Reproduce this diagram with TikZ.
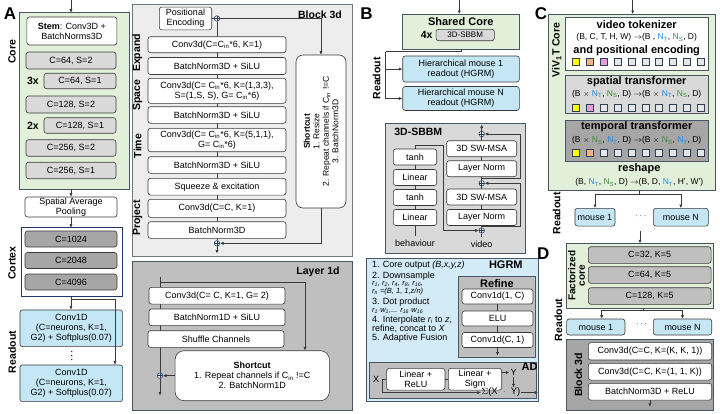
\documentclass[tikz,border=0pt]{standalone}
\usepackage{fontspec}
\setmainfont{Liberation Sans}
\usepackage{tikz}
\usetikzlibrary{arrows.meta}

\definecolor{coreGreen}{HTML}{E2F0D9}
\definecolor{readBlue}{HTML}{C5E6F4}
\definecolor{hgrmBlue}{HTML}{D2EBF6}
\definecolor{lightGray}{HTML}{D9D9D9}
\definecolor{midGray}{HTML}{BFBFBF}
\definecolor{darkGray}{HTML}{A6A6A6}
\definecolor{panelBg}{HTML}{EDEDED}
\definecolor{lineCol}{HTML}{3A3A3A}
\definecolor{panelLine}{HTML}{4A5563}
\definecolor{navyLine}{HTML}{203864}
\definecolor{plusBlue}{HTML}{1F3864}
\definecolor{ntBlue}{HTML}{1E88E5}
\definecolor{nsGreen}{HTML}{3B8E3B}
\definecolor{tokYellow}{HTML}{FFFF00}
\definecolor{tokOrange}{HTML}{F4B183}
\definecolor{tokPink}{HTML}{E49EDD}
\definecolor{tokGray}{HTML}{E4E6EA}
\definecolor{tokLine}{HTML}{2F3E50}

\newcommand{\boxfont}{\fontsize{9}{10}\selectfont}
\newcommand{\smfont}{\fontsize{8.5}{9.5}\selectfont}
\newcommand{\tnfont}{\fontsize{7.5}{8.5}\selectfont}
\newcommand{\NTb}{\textcolor{ntBlue}{N\textsubscript{T}}}
\newcommand{\NSg}{\textcolor{nsGreen}{N\textsubscript{S}}}
\newcommand{\Cin}{C\textsubscript{in}}

\tikzset{
  blk/.style={draw=lineCol, line width=0.6pt, rounded corners=2.5pt, fill=white,
    align=center, inner sep=0.5pt, font=\boxfont},
  gbox/.style={blk, fill=lightGray},
  mbox/.style={blk, fill=midGray},
  dbox/.style={blk, fill=darkGray},
  rbox/.style={blk, fill=readBlue},
  panel/.style={draw=panelLine, line width=0.8pt},
  lbl/.style={font=\bfseries\fontsize{10.5}{12}\selectfont, rotate=90},
  ttl/.style={font=\bfseries\fontsize{10.5}{12}\selectfont},
  bigttl/.style={font=\bfseries\fontsize{11}{12}\selectfont},
  letter/.style={font=\bfseries\fontsize{17}{18}\selectfont},
  txt/.style={font=\boxfont},
  ln/.style={draw=lineCol, line width=0.6pt},
  arr/.style={ln, -{Latex[length=3.5pt,width=3.2pt]}},
  tok/.style={draw=tokLine, line width=0.6pt, minimum size=7, inner sep=0pt},
  plus/.style={circle, draw=plusBlue, line width=0.6pt, fill=white, inner sep=0pt,
    minimum size=5.5pt, path picture={\draw[plusBlue, line width=0.5pt]
      (path picture bounding box.north) -- (path picture bounding box.south)
      (path picture bounding box.west) -- (path picture bounding box.east);}},
}

\begin{document}
\begin{tikzpicture}[x=1pt,y=-1pt]
\fill[white] (0,0) rectangle (720,413);
\useasboundingbox (0,0) rectangle (720,413);

% A
\node[letter] (labA) at (10,14) {A};
\coordinate (inA) at (71,0);
\coordinate (coreT) at (71,12.7);
\draw[panel, fill=coreGreen] (19.5,12.7) rectangle (129,189);
\draw[arr] (inA) -- (coreT);
\node[lbl] (lCore) at (12,52) {Core};
\node[blk, minimum width=90, minimum height=28] (stem) at (71.9,31) {\textbf{Stem}: Conv3D +\\BatchNorms3D};
\node[gbox, minimum width=90, minimum height=17] (c1) at (71,60.5) {C=64, S=2};
\node[gbox, minimum width=72, minimum height=15.5] (c2) at (80,81) {C=64, S=1};
\node[gbox, minimum width=90, minimum height=17] (c3) at (71,104.5) {C=128, S=2};
\node[gbox, minimum width=72, minimum height=15.5] (c4) at (80,125.5) {C=128, S=1};
\node[gbox, minimum width=90, minimum height=16.5] (c5) at (71,148) {C=256, S=2};
\node[gbox, minimum width=90, minimum height=16.5] (c6) at (71,170.5) {C=256, S=1};
\node[ttl] (rep3) at (33,81) {3x};
\node[ttl] (rep2) at (33,125.5) {2x};
\coordinate (coreB) at (71,189);
\node[blk, minimum width=92, minimum height=20] (pool) at (71,207) {Spatial Average\\Pooling};
\draw[arr] (coreB) -- (pool.north);
\coordinate (ctxT) at (71,227.7);
\coordinate (ctxB) at (71,296.7);
\draw[panel, draw=navyLine, fill=white] (21,227.7) rectangle (122,296.7);
\draw[arr] (pool.south) -- (ctxT);
\node[lbl] (lCtx) at (12,263) {Cortex};
\node[dbox, minimum width=92, minimum height=16] (k1) at (71,239) {C=1024};
\node[dbox, minimum width=92, minimum height=16] (k2) at (71,260.5) {C=2048};
\node[dbox, minimum width=92, minimum height=16] (k3) at (71,282) {C=4096};
\node[rbox, minimum width=102.7, minimum height=36.7] (r1) at (71.3,328.3) {Conv1D\\(C=neurons, K=1,\\G2) + Softplus(0.07)};
\node[rbox, minimum width=102.7, minimum height=36.7] (r2) at (71.3,383.3) {Conv1D\\(C=neurons, K=1,\\G2) + Softplus(0.07)};
\foreach \d in {351.5,355.5,359.5}
  \fill[lineCol] (71.7,\d) circle (0.8pt);
\node[lbl] (lRdA) at (12,352) {Readout};
\coordinate (brA) at (71,299.5);
\draw[arr] (ctxB) -- (ctxB |- r1.north);
\draw[arr] (brA) -| ([xshift=43.7pt]r2.north);

% Block 3d
\draw[panel, draw=panelLine!80, fill=panelBg] (132,4) rectangle (352,256.7);
\node[ttl] (t3d) at (320,15) {Block 3d};
\node[plus] (p1) at (217,18.5) {};
\node[plus] (p2) at (217,243.3) {};
\coordinate (out3d) at (217,253.5);
\draw[ln] (p1) -- (p2);
\draw[arr] (p2.south) -- (out3d);
\node[blk, minimum width=52.4, minimum height=22.7] (pe) at (185.5,18.5) {Positional\\Encoding};
\draw[ln] (pe.east) -- (p1.west);
\node[blk, minimum width=138, minimum height=16] (e1) at (217,44.7) {Conv3d(C=\Cin*6, K=1)};
\node[blk, minimum width=138, minimum height=17] (e2) at (217,66) {BatchNorm3D + SiLU};
\node[blk, minimum width=138, minimum height=25] (s1) at (217,90.8) {Conv3d(C= \Cin*6, K=(1,3,3),\\S=(1,S, S), G= \Cin*6)};
\node[blk, minimum width=138, minimum height=16.6] (s2) at (217,115) {BatchNorm3D + SiLU};
\node[blk, minimum width=138, minimum height=23.4] (m1) at (217,140) {Conv3d(C= \Cin*6, K=(5,1,1),\\G= \Cin*6)};
\node[blk, minimum width=138, minimum height=16.6] (m2) at (217,165) {BatchNorm3D + SiLU};
\node[blk, minimum width=138, minimum height=16.7] (se) at (217,186.7) {Squeeze \& excitation};
\node[blk, minimum width=138, minimum height=18] (j1) at (217,208.3) {Conv3d(C=C, K=1)};
\node[blk, minimum width=138, minimum height=16.6] (j2) at (217,230) {BatchNorm3D};
\node[lbl] (lExp) at (137.5,53) {Expand};
\node[lbl] (lSpa) at (137.5,95) {Space};
\node[lbl] (lTim) at (137.5,146) {Time};
\node[lbl] (lPro) at (137.5,218) {Project};
\node[blk, rotate=90, rounded corners=7pt, minimum width=153, minimum height=50, font=\smfont] (sc3) at (321,131.5)
  {\textbf{Shortcut}\\1. Resize\\2. Repeat channels if \Cin{} !=C\\3. BatchNorm3D};
\draw[arr] (p1.east) -| (sc3.east);
\draw[arr] (sc3.west) |- (p2.east);

% Layer 1d
\draw[panel, fill=midGray] (132,261.7) rectangle (352,410);
\node[ttl] (t1d) at (318,271.7) {Layer 1d};
\coordinate (in1d) at (160,277);
\coordinate (br1d) at (160,282);
\node[plus] (p3) at (160,375.7) {};
\coordinate (out1d) at (160,395.5);
\draw[ln] (in1d) -- (p3.north);
\draw[arr] (p3.south) -- (out1d);
\node[blk, minimum width=136, minimum height=16.7] (l1) at (217,295.7) {Conv3d(C= C, K=1, G= 2)};
\node[blk, minimum width=136, minimum height=16.7] (l2) at (217,317.3) {BatchNorm1D + SiLU};
\node[blk, minimum width=136, minimum height=16.6] (l3) at (216,339) {Shuffle Channels};
\node[blk, rounded corners=9pt, minimum width=154.3, minimum height=50] (sc1) at (252.2,375.7)
  {\textbf{Shortcut}\\1. Repeat channels if \Cin{} !=C\\2. BatchNorm1D};
\draw[arr] (br1d) -| ([xshift=52.8pt]sc1.north);
\draw[arr] (sc1.west) -- (p3.east);

% B
\node[letter] (labB) at (366.5,13.5) {B};
\coordinate (inB) at (459.3,0);
\coordinate (shT) at (459.3,14);
\draw[panel, fill=coreGreen] (402.7,14) rectangle (519.3,49.3);
\draw[arr] (inB) -- (shT);
\node[bigttl] (tsh) at (460.7,21.7) {Shared Core};
\node[ttl] (four) at (426.7,34.7) {4x};
\node[gbox, minimum width=58.3, minimum height=11.4, font=\fontsize{8}{9}\selectfont] (sbbm) at (465.2,35) {3D-SBBM};
\node[rbox, minimum width=116.6, minimum height=26] (h1) at (461,69) {Hierarchical mouse 1\\readout (HGRM)};
\node[rbox, minimum width=116.6, minimum height=24] (h2) at (461,98.5) {Hierarchical mouse N\\readout (HGRM)};
\node[lbl] (lRdB) at (376.7,78.3) {Readout};
\coordinate (shB) at (461,49.3);
\coordinate (brB) at (461,51.5);
\coordinate (brBL) at (385.7,51.5);
\draw[ln] (shB) -- (brB) -- (brBL);
\draw[arr] (brBL) |- (h1.west);
\draw[arr] (brBL) |- (h2.west);

% 3D-SBBM
\draw[panel, fill=lightGray] (385.7,123.3) rectangle (525,253.3);
\node[ttl] (tsb) at (418.3,131.7) {3D-SBBM};
\node[txt] (beh) at (415,243.3) {behaviour};
\node[txt] (vid) at (481.7,244.3) {video};
\node[plus] (q1) at (481.7,134) {};
\node[plus] (q2) at (481.7,183.3) {};
\node[plus] (q3) at (481.7,230.5) {};
\coordinate (sbOut) at (481.7,124.5);
\draw[ln] (vid) -- (q3) -- (q2) -- (q1);
\draw[arr] (q1.north) -- (sbOut);
\node[blk, minimum width=43.4, minimum height=16] (ta1) at (415,157) {tanh};
\node[blk, minimum width=43.4, minimum height=16] (li1) at (415,177.5) {Linear};
\node[blk, minimum width=43.4, minimum height=16] (ta2) at (415,197.5) {tanh};
\node[blk, minimum width=43.4, minimum height=16] (li2) at (415,217.5) {Linear};
\draw[ln] (beh) -- (li2) -- (ta2) -- (li1) -- (ta1);
\node[blk, minimum width=70, minimum height=16] (sw1) at (481.7,148.7) {3D SW-MSA};
\node[blk, minimum width=70, minimum height=16] (ln1) at (481.7,168.7) {Layer Norm};
\node[blk, minimum width=70, minimum height=16] (sw2) at (481.7,197) {3D SW-MSA};
\node[blk, minimum width=70, minimum height=16] (ln2) at (481.7,217.5) {Layer Norm};
\coordinate (bhA) at (415,145);
\coordinate (bhB) at (443.3,145);
\draw[arr] (ta1.north) -- (bhA) -- (bhB) |- (q3.west);
\coordinate (sk1a) at (481.7,178.7);
\coordinate (sk1b) at (520.7,178.7);
\coordinate (sk2a) at (481.7,226.4);
\coordinate (sk2b) at (520.7,226.4);
\draw[arr] (sk1a) -- (sk1b) |- (q1.east);
\draw[arr] (sk2a) -- (sk2b) |- (q2.east);

% HGRM
\draw[panel, fill=hgrmBlue] (366.7,258.3) rectangle (538,401.7);
\node[bigttl] (thg) at (505.8,265) {HGRM};
\node[txt, anchor=west] (hl1) at (368.5,265) {1. Core output \textit{(B,x,y,z)}};
\node[txt, anchor=west] (hl2) at (368.5,275.7) {2. Downsample};
\node[font=\tnfont, anchor=west] (hl3) at (368.5,284.3) {\textit{r\textsubscript{1}, r\textsubscript{2}, r\textsubscript{4}, r\textsubscript{8}, r\textsubscript{16},}};
\node[font=\tnfont, anchor=west] (hl4) at (368.5,292) {\textit{r\textsubscript{n} =(B, 1, 1,z/n)}};
\node[txt, anchor=west] (hl5) at (368.5,301.7) {3. Dot product};
\node[font=\tnfont, anchor=west] (hl6) at (368.5,310.7) {\textit{r\textsubscript{1}$\cdot$w\textsubscript{1},... r\textsubscript{16}$\cdot$w\textsubscript{16}}};
\node[txt, anchor=west] (hl7) at (368.5,320) {4. Interpolate \textit{r\textsubscript{i}} to \textit{z},};
\node[txt, anchor=west] (hl8) at (368.5,329.2) {refine, concat to \textit{X}};
\node[txt, anchor=west] (hl9) at (368.5,338.5) {5. Adaptive Fusion};
\draw[panel, fill=midGray] (458.3,276.7) rectangle (535.5,357.3);
\node[bigttl] (tref) at (497,283.5) {Refine};
\node[blk, minimum width=71, minimum height=15] (rc1) at (497.5,296.5) {Conv1d(1, C)};
\node[blk, minimum width=71, minimum height=15] (rc2) at (497.5,318.5) {ELU};
\node[blk, minimum width=71, minimum height=15] (rc3) at (497.5,340) {Conv1d(C, 1)};
\coordinate (refOut) at (497.5,355.5);
\draw[ln] (rc1) -- (rc2) -- (rc3);
\draw[arr] (rc3.south) -- (refOut);
\draw[panel, fill=midGray] (369,362.5) rectangle (536,398.5);
\node[bigttl] (tad) at (529.5,367) {AD};
\node[txt] (xin) at (376,379.2) {X};
\node[blk, minimum width=58.3, minimum height=21.7] (lr) at (415.8,379.2) {Linear +\\ReLU};
\node[blk, minimum width=53.4, minimum height=21.7] (ls) at (475,379.2) {Linear +\\Sigm};
\node[txt, inner sep=1pt] (yout) at (513.5,372.5) {Y};
\node[txt, inner sep=0.5pt, font=\fontsize{9.5}{10}\selectfont] (sig) at (501,392.5) {$\Sigma$(X~~$\cdot$~~Y)};
\coordinate (xb) at (382,379.2);
\coordinate (adOut) at (538,392.5);
\draw[ln] (xin.east) -- (lr.west);
\draw[ln] (lr.east) -- (ls.west);
\draw[arr] (ls.east |- yout.west) -- (yout.west);
\draw[arr] (yout.south) -- (yout.south |- sig.north);
\draw[arr] (xb) |- (sig.west);
\draw[arr] (sig.east) -- (adOut);

% C
\node[letter] (labC) at (541,13.5) {C};
\coordinate (inC) at (632.7,0);
\coordinate (vvT) at (632.7,14);
\draw[panel, fill=coreGreen] (548.3,14) rectangle (715,190);
\draw[arr] (inC) -- (vvT);
\node[lbl] (tviv) at (556.7,50) {ViV\textsubscript{1}T Core};
\draw[panel, fill=white] (565,17.3) rectangle (708.3,70.7);
\node[bigttl] (tokT) at (636.7,25) {video tokenizer};
\node[font=\smfont] (tokF) at (636.7,37.7) {(B, C, T, H, W) $\rightarrow$(B , \NTb, \NSg, D)};
\node[bigttl] (tokP) at (636.7,51) {and positional encoding};
\foreach \i/\c in {0/tokYellow,1/tokOrange,2/tokPink,3/tokGray,4/tokGray,5/tokGray,6/tokGray,7/tokGray,8/tokGray,9/tokGray}
  \node[tok, fill=\c] (va\i) at ({575.8+13.9*\i},61.7) {};
\draw[panel, fill=lightGray] (565,75) rectangle (708.3,113.3);
\node[bigttl] (spT) at (636.7,81.7) {spatial transformer};
\node[font=\smfont] (spF) at (636.7,94.3) {(B $\times$ \NTb, \NSg, D) $\rightarrow$(B $\times$ \NTb, \NSg, D)};
\foreach \i/\c in {0/tokYellow,1/tokPink,2/tokGray,3/tokGray,4/tokGray,5/tokGray,6/tokGray,7/tokGray,8/tokGray,9/tokGray}
  \node[tok, fill=\c] (vb\i) at ({575.8+13.9*\i},107.3) {};
\draw[panel, fill=darkGray] (565,120.7) rectangle (708.3,161.7);
\node[bigttl] (tpT) at (636.7,126.7) {temporal transformer};
\node[font=\smfont] (tpF) at (636.7,140.7) {(B $\times$ \NSg, \NTb, D) $\rightarrow$(B $\times$ \NSg, \NTb, D)};
\foreach \i/\c in {0/tokYellow,1/tokOrange,2/tokGray,3/tokGray,4/tokGray,5/tokGray,6/tokGray,7/tokGray,8/tokGray,9/tokGray}
  \node[tok, fill=\c] (vc\i) at ({575.8+13.9*\i},152.7) {};
\node[bigttl] (rsT) at (639.3,169) {reshape};
\node[font=\smfont] (rsF) at (639.3,182.7) {(B, \NTb, \NSg, D) $\rightarrow$(B, D, \NTb, H', W')};
\node[rbox, minimum width=40, minimum height=17.7] (cm1) at (595,217.2) {mouse 1};
\node[rbox, minimum width=55, minimum height=17.7] (cmN) at (680.8,217.2) {mouse N};
\node[font=\boxfont] (cdots) at (641,216.2) {$\cdots$};
\node[lbl] (lRdC) at (556.7,213.3) {Readout};
\coordinate (cBot) at (639.3,190);
\coordinate (cBr) at (639.3,194);
\draw[ln] (cBot) -- (cBr);
\draw[arr] (cBr) -| (cm1.north);
\draw[arr] (cBr) -| (cmN.north);
\coordinate (cOut) at (640,230.5);
\coordinate (fTop) at (640,243.3);
\draw[arr] (cOut) -- (fTop);

% D
\node[letter] (labD) at (543.3,253.3) {D};
\draw[panel, fill=coreGreen] (566.7,243.3) rectangle (713.3,308.3);
\node[lbl, align=center, font=\bfseries\fontsize{10}{9.5}\selectfont] (tfac) at (576.5,275.8) {Factorized\\core};
\node[mbox, minimum width=122.7, minimum height=16.6] (f1) at (649.7,255) {C=32, K=5};
\node[mbox, minimum width=122.7, minimum height=16.6] (f2) at (649.7,275) {C=64, K=5};
\node[mbox, minimum width=122.7, minimum height=16.6] (f3) at (649.7,296) {C=128, K=5};
\coordinate (fBot) at (643.3,308.3);
\coordinate (fBr) at (643.3,310.5);
\node[rbox, minimum width=58.3, minimum height=16] (dm1) at (595.8,327) {mouse 1};
\node[rbox, minimum width=58.4, minimum height=16] (dmN) at (682.5,327) {mouse N};
\node[font=\boxfont] (ddots) at (641.7,324.5) {$\cdots$};
\node[lbl] (lRdD) at (558.3,320) {Readout};
\draw[ln] (fBot) -- (fBr);
\draw[arr] (fBr) -| ([xshift=5.9pt]dm1.north);
\draw[arr] (fBr) -| (dmN.north);
\draw[panel, fill=darkGray] (566.7,339.3) rectangle (713.3,410.7);
\node[lbl] (tb3) at (578.3,375) {Block 3d};
\node[blk, minimum width=123.4, minimum height=17.3] (d1) at (650,351.3) {Conv3d(C=C, K=(K, K, 1))};
\node[blk, minimum width=123.4, minimum height=16.7] (d2) at (650,371.7) {Conv3d(C=C, K=(1, 1, K))};
\node[blk, minimum width=123.4, minimum height=16.7] (d3) at (650,391.7) {BatchNorm3D + ReLU};
\coordinate (dOut) at (650,406.8);
\draw[arr] (d3.south) -- (dOut);
\end{tikzpicture}
\end{document}
